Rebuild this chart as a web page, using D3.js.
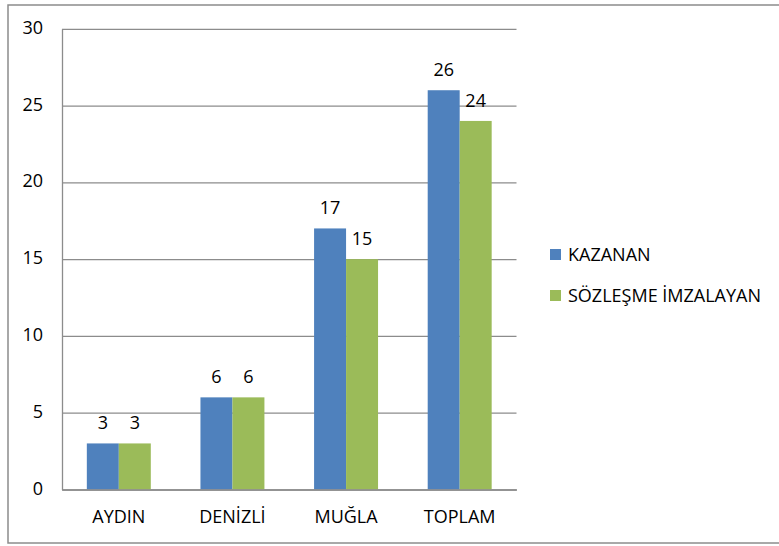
<!DOCTYPE html>
<html>
<head>
<meta charset="utf-8">
<script src="https://cdn.jsdelivr.net/npm/d3@7"></script>
<style>
  body { margin: 0; background: #fff; }
  svg { display: block; font-family: "Open Sans", sans-serif; }
</style>
</head>
<body>
<div id="chart"></div>
<script>
// Chart data
var categories = ["AYDIN", "DENİZLİ", "MUĞLA", "TOPLAM"];
var seriesNames = ["KAZANAN", "SÖZLEŞME İMZALAYAN"];
var kazanan = [3, 6, 17, 26];
var imzalayan = [3, 6, 15, 24];
var yTicks = [0, 5, 10, 15, 20, 25, 30];
var colors = ["#4f81bd", "#9bbb59"];

function init() {
    var w = 779, h = 546;
    var plot = { left: 62, right: 516.5, top: 28.8, bottom: 489.5 };
    var fontSize = 18;

    var svg = d3.select("#chart").append("svg")
        .attr("width", w)
        .attr("height", h);

    // outer chart border (right side falls outside the picture)
    svg.append("rect")
        .attr("x", 8).attr("y", 5)
        .attr("width", 800).attr("height", 538)
        .attr("fill", "none")
        .attr("stroke", "#8c8c8c")
        .attr("stroke-width", 1.5);

    var yScale = d3.scaleLinear()
        .domain([0, 30])
        .range([plot.bottom, plot.top]);

    var x0 = d3.scaleBand()
        .domain(categories)
        .range([plot.left, plot.right])
        .paddingInner(0.437)
        .paddingOuter(0.437 / 2);

    var x1 = d3.scaleBand()
        .domain(seriesNames)
        .range([0, x0.bandwidth()]);

    // gridlines
    svg.append("g")
        .attr("transform", "translate(" + plot.left + ",0)")
        .call(d3.axisLeft(yScale).tickValues(yTicks).tickSize(-(plot.right - plot.left)).tickFormat(""))
        .call(g => g.select(".domain").remove())
        .selectAll("line")
        .attr("stroke", "#8c8c8c")
        .attr("stroke-width", 1.3);

    // y tick labels
    var yAxis = svg.append("g")
        .attr("transform", "translate(" + plot.left + ",0)")
        .call(d3.axisLeft(yScale).tickValues(yTicks).tickSize(0).tickPadding(19));
    yAxis.select(".domain").attr("stroke", "#8c8c8c").attr("stroke-width", 1.3);
    yAxis.selectAll("text")
        .attr("font-family", "Open Sans")
        .attr("font-size", fontSize)
        .attr("dy", "0.25em")
        .attr("fill", "#000");

    // bars
    var rows = categories.map((c, i) => ({ cat: c, values: [kazanan[i], imzalayan[i]] }));

    var groups = svg.selectAll(".grp")
        .data(rows)
        .enter().append("g")
        .attr("class", "grp")
        .attr("transform", d => "translate(" + x0(d.cat) + ",0)");

    groups.selectAll("rect")
        .data(d => d.values.map((v, j) => ({ name: seriesNames[j], value: v, j: j })))
        .enter().append("rect")
        .attr("x", d => x1(d.name))
        .attr("y", d => yScale(d.value))
        .attr("width", x1.bandwidth())
        .attr("height", d => yScale(0) - yScale(d.value))
        .attr("fill", d => colors[d.j]);

    groups.selectAll("text")
        .data(d => d.values.map((v, j) => ({ name: seriesNames[j], value: v })))
        .enter().append("text")
        .attr("x", d => x1(d.name) + x1.bandwidth() / 2)
        .attr("y", d => yScale(d.value) - 14)
        .attr("text-anchor", "middle")
        .attr("font-size", fontSize)
        .attr("fill", "#000")
        .text(d => d.value);

    // x axis
    var xAxis = svg.append("g")
        .attr("transform", "translate(0," + plot.bottom + ")")
        .call(d3.axisBottom(x0).tickSize(0).tickPadding(21));
    xAxis.select(".domain").attr("stroke", "#8c8c8c").attr("stroke-width", 1.3);
    xAxis.selectAll("text")
        .attr("font-family", "Open Sans")
        .attr("font-size", fontSize)
        .attr("fill", "#000");

    // legend
    var legend = svg.selectAll(".leg")
        .data(seriesNames)
        .enter().append("g")
        .attr("class", "leg")
        .attr("transform", (d, i) => "translate(550," + (249 + i * 41) + ")");

    legend.append("rect")
        .attr("width", 11).attr("height", 11)
        .attr("fill", (d, i) => colors[i]);

    legend.append("text")
        .attr("x", 18)
        .attr("y", 12)
        .attr("font-size", fontSize)
        .attr("fill", "#000")
        .text(d => d);
}

window.onload = init;
</script>
</body>
</html>
